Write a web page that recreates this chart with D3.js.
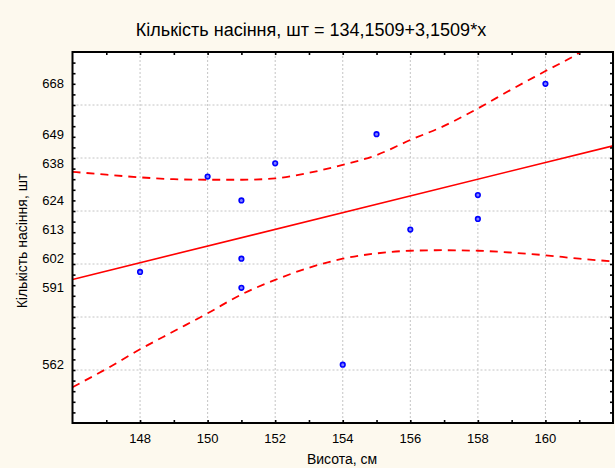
<!DOCTYPE html>
<html>
<head>
<meta charset="utf-8">
<script src="https://cdn.jsdelivr.net/npm/d3@7"></script>
<style>
body { margin:0; background:#fdf9ee; }
text { font-family: "Liberation Sans", Arial, sans-serif; fill:#000; }
</style>
</head>
<body>
<div id="chart"></div>
<script>

// points
var heights = [148, 150, 151, 151, 151, 152, 154, 155, 156, 158, 158, 160];
var seeds   = [597, 633, 624, 602, 591, 638, 562, 649, 613, 626, 617, 668];

// regression line from the title
var intercept = 134.1509;
var slope = 3.1509;

// confidence band (at whole x values)
var bandX     = [146, 147, 148, 149, 150, 151, 152, 153, 154, 155, 156, 157, 158, 159, 160, 161, 162];
var bandUpper = [634.8, 633.7, 632.7, 632.0, 631.8, 631.8, 632.3, 634.4, 637.4, 641.1, 646.8, 652.1, 658.7, 665.9, 672.8, 679.7, 689.0];
var bandLower = [553.5, 560.4, 567.8, 574.6, 581.4, 588.5, 594.0, 598.6, 602.0, 604.0, 605.0, 605.2, 605.0, 604.3, 603.3, 602.0, 601.0];

var xTicks = [148, 150, 152, 154, 156, 158, 160];
var yLabels = [668, 649, 638, 624, 613, 602, 591, 562];
var yGrid = [560, 580, 600, 620, 640, 660];

var width = 615, height = 468;
var pLeft = 72.5, pRight = 613, pTop = 52, pBottom = 423;

var svg = d3.select("#chart").append("svg")
    .attr("width", width)
    .attr("height", height);

svg.append("rect")
    .attr("width", width).attr("height", height)
    .style("fill", "#fdf9ee");

var x = d3.scaleLinear().domain([146, 162]).range([pLeft, pRight]);
var y = d3.scaleLinear().domain([540, 680]).range([pBottom, pTop]);

svg.append("clipPath").attr("id", "clip")
    .append("rect")
    .attr("x", pLeft).attr("y", pTop)
    .attr("width", pRight - pLeft).attr("height", pBottom - pTop);

svg.append("rect")
    .attr("x", pLeft).attr("y", pTop)
    .attr("width", pRight - pLeft).attr("height", pBottom - pTop)
    .style("fill", "#fff");

// grid
svg.selectAll("line.gx").data(xTicks).enter().append("line")
    .attr("class", "gx")
    .attr("x1", function(d){return x(d);}).attr("x2", function(d){return x(d);})
    .attr("y1", pTop).attr("y2", pBottom)
    .style("stroke", "#c4c4c4").style("stroke-dasharray", "2,2");

svg.selectAll("line.gy").data(yGrid).enter().append("line")
    .attr("class", "gy")
    .attr("y1", function(d){return y(d);}).attr("y2", function(d){return y(d);})
    .attr("x1", pLeft).attr("x2", pRight)
    .style("stroke", "#c4c4c4").style("stroke-dasharray", "2,2");

// inward ticks on all four sides
var xMinor = d3.range(147, 162, 1);
var yMinor = d3.range(544, 680, 4);
var tickLen = 3;

var axisBottom = d3.axisBottom(x).tickValues(xMinor).tickSizeInner(-tickLen).tickSizeOuter(0).tickFormat("");
var axisTop = d3.axisTop(x).tickValues(xMinor).tickSizeInner(-tickLen).tickSizeOuter(0).tickFormat("");
var axisLeft = d3.axisLeft(y).tickValues(yMinor).tickSizeInner(-tickLen).tickSizeOuter(0).tickFormat("");
var axisRight = d3.axisRight(y).tickValues(yMinor).tickSizeInner(-tickLen).tickSizeOuter(0).tickFormat("");

svg.append("g").attr("transform", "translate(0," + pBottom + ")").call(axisBottom);
svg.append("g").attr("transform", "translate(0," + pTop + ")").call(axisTop);
svg.append("g").attr("transform", "translate(" + pLeft + ",0)").call(axisLeft);
svg.append("g").attr("transform", "translate(" + pRight + ",0)").call(axisRight);
svg.selectAll(".tick line").style("stroke", "#000").style("stroke-width", 1.6);
svg.selectAll(".domain").remove();

var plot = svg.append("g").attr("clip-path", "url(#clip)");

// band lines
var band = d3.line()
    .x(function(d){return x(d[0]);})
    .y(function(d){return y(d[1]);})
    .curve(d3.curveMonotoneX);

plot.append("path")
    .datum(bandX.map(function(v, i){return [v, bandUpper[i]];}))
    .attr("d", band)
    .style("fill", "none").style("stroke", "#ff0000")
    .style("stroke-width", 1.8).style("stroke-dasharray", "8,6");

plot.append("path")
    .datum(bandX.map(function(v, i){return [v, bandLower[i]];}))
    .attr("d", band)
    .style("fill", "none").style("stroke", "#ff0000")
    .style("stroke-width", 1.8).style("stroke-dasharray", "8,6");

// fitted line
var xs = x.domain();
plot.append("line")
    .attr("x1", x(xs[0])).attr("y1", y(intercept + slope * xs[0]))
    .attr("x2", x(xs[1])).attr("y2", y(intercept + slope * xs[1]))
    .style("stroke", "#ff0000").style("stroke-width", 1.6);

// points
plot.selectAll("circle").data(heights).enter().append("circle")
    .attr("cx", function(d){return x(d);})
    .attr("cy", function(d, i){return y(seeds[i]);})
    .attr("r", 2.3)
    .style("fill", "#8080ff")
    .style("stroke", "#0000ff")
    .style("stroke-width", 1.6);

// frame
svg.append("rect")
    .attr("x", pLeft).attr("y", pTop)
    .attr("width", pRight - pLeft).attr("height", pBottom - pTop)
    .style("fill", "none").style("stroke", "#000").style("stroke-width", 2);

// labels
svg.selectAll("text.xl").data(xTicks).enter().append("text")
    .attr("class", "xl")
    .attr("x", function(d){return x(d);})
    .attr("y", 443)
    .attr("text-anchor", "middle")
    .style("font-size", "13px")
    .text(function(d){return d;});

svg.selectAll("text.yl").data(yLabels).enter().append("text")
    .attr("class", "yl")
    .attr("x", 64)
    .attr("y", function(d){return y(d) + 4.5;})
    .attr("text-anchor", "end")
    .style("font-size", "13px")
    .text(function(d){return d;});

svg.append("text")
    .attr("x", 311).attr("y", 36)
    .attr("text-anchor", "middle")
    .style("font-size", "18px")
    .text("Кількість насіння, шт = 134,1509+3,1509*x");

svg.append("text")
    .attr("x", 342).attr("y", 464)
    .attr("text-anchor", "middle")
    .style("font-size", "14px")
    .text("Висота, см");

svg.append("text")
    .attr("transform", "translate(27,241) rotate(-90)")
    .attr("text-anchor", "middle")
    .style("font-size", "14px")
    .text("Кількість насіння, шт");

</script>
</body>
</html>
